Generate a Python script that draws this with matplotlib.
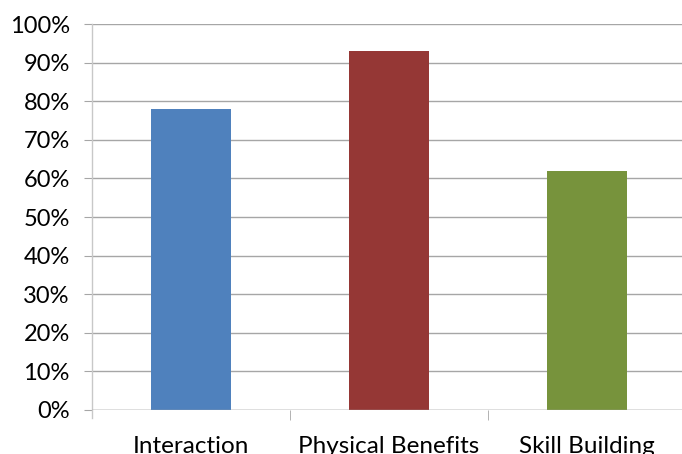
import matplotlib
matplotlib.use("Agg")
import matplotlib.pyplot as plt
from matplotlib.ticker import FuncFormatter

categories = ["Interaction", "Physical Benefits", "Skill Building"]
values = [0.78, 0.93, 0.62]
colors = ["#4F81BD", "#953735", "#77933C"]
yticks = [i / 10 for i in range(11)]

plt.rcParams['font.family'] = ['Lato', 'DejaVu Sans']

fig = plt.figure(figsize=(6.82, 4.54), dpi=100)
ax = fig.add_axes([92 / 682, 44 / 454, 594 / 682, 386 / 454])

x = list(range(len(categories)))
ax.bar(x, values, width=0.4, color=colors, zorder=3)
ax.set_xlim(-0.5, 2.5)
ax.set_ylim(0, 1.0)
ax.set_yticks(yticks)
ax.yaxis.set_major_formatter(FuncFormatter(lambda v, p: f"{round(v * 100)}%"))
ax.set_xticks(x)
ax.set_xticklabels(categories)
ax.set_xticks([0.5, 1.5], minor=True)

ax.grid(axis='y', color='#a6a6a6', linewidth=1.0, zorder=0)
for s in ['top', 'right', 'bottom']:
    ax.spines[s].set_visible(False)
ax.spines['left'].set_color('#c8c8c8')
ax.spines['left'].set_linewidth(1.0)
ax.spines['left'].set_bounds(-0.02, 1.0)
ax.tick_params(axis='y', length=6, color='#a6a6a6', labelsize=17, pad=10)
ax.tick_params(axis='x', which='major', length=0, labelsize=17.5, pad=19)
ax.tick_params(axis='x', which='minor', length=7, color='#a6a6a6')
ax.axhline(0, color='#a6a6a6', linewidth=1.0, zorder=4)

fig.savefig("out.png", dpi=100)
